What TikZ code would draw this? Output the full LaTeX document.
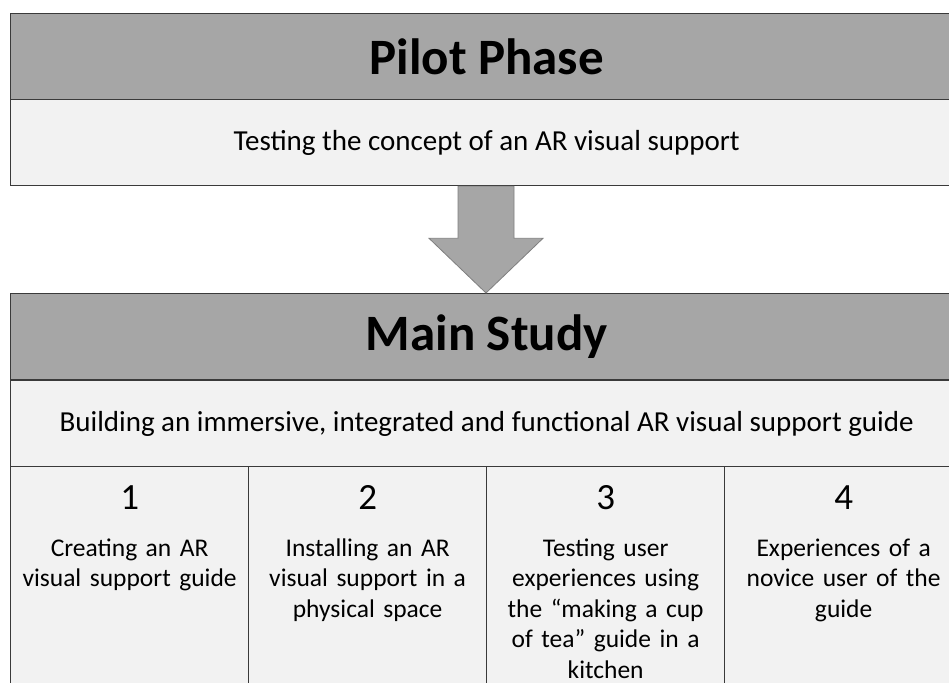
\documentclass[tikz,border=0pt]{standalone}
\usepackage{fontspec}
\setmainfont{Carlito}
\usetikzlibrary{calc,positioning}
\definecolor{headgray}{HTML}{A6A6A6}
\definecolor{bodygray}{HTML}{F2F2F2}
\definecolor{edgegray}{HTML}{3A3A3A}
\definecolor{arrowedge}{HTML}{7F7F7F}

\begin{document}
\begin{tikzpicture}[x=1pt, y=-1pt,
  headbox/.style={draw=edgegray, line width=1.3pt, fill=headgray, inner sep=0pt,
    minimum width=952pt, minimum height=86pt, anchor=north west,
    font=\fontsize{51}{55}\selectfont\bfseries},
  bodybox/.style={draw=edgegray, line width=1.3pt, fill=bodygray, inner sep=0pt,
    minimum width=952pt, minimum height=86pt, anchor=north west,
    font=\fontsize{29}{33}\selectfont},
  colbox/.style={draw=edgegray, line width=1.3pt, fill=bodygray, inner sep=0pt,
    minimum width=238pt, minimum height=240pt, anchor=north west},
  colnum/.style={font=\fontsize{37}{40}\selectfont, inner sep=0pt},
  coltext/.style={font=\fontsize{25.5}{30.5}\selectfont, inner sep=0pt,
    text width=232pt, align=center}]
  \useasboundingbox (0,0) rectangle (949,682);
  \clip (0,0) rectangle (949,682);
  % pilot phase
  \node[headbox] (pilothead) at (10,13) {Pilot Phase};
  \node[bodybox] (pilotbody) at (10,99) {Testing the concept of an AR visual support};
  % main study
  \node[headbox] (mainhead) at (10,293) {Main Study};
  \node[bodybox] (mainbody) at (10,380) {Building an immersive, integrated and functional AR visual support guide};
  \node[colbox] (col1) at (10,466) {};
  \node[colbox] (col2) at (248,466) {};
  \node[colbox] (col3) at (486,466) {};
  \node[colbox] (col4) at (724,466) {};
  \node[colnum, below=43pt of col1.north, anchor=base] (num1) {1};
  \node[colnum, below=43pt of col2.north, anchor=base] (num2) {2};
  \node[colnum, below=43pt of col3.north, anchor=base] (num3) {3};
  \node[colnum, below=43pt of col4.north, anchor=base] (num4) {4};
  \node[coltext, below=90pt of col1.north, anchor=base] (txt1) {Creating an AR\\visual support guide};
  \node[coltext, below=90pt of col2.north, anchor=base] (txt2) {Installing an AR\\visual support in a\\physical space};
  \node[coltext, below=90pt of col3.north, anchor=base] (txt3) {Testing user\\experiences using\\the “making a cup\\of tea” guide in a\\kitchen};
  \node[coltext, below=90pt of col4.north, anchor=base] (txt4) {Experiences of a\\novice user of the\\guide};
  % block arrow
  \coordinate (tip) at (pilotbody.south -| col3.north west);
  \draw[arrowedge, fill=headgray, line width=0.8pt]
    ($(tip)+(-28,0)$) -- ($(tip)+(28,0)$) -- ($(tip)+(28,52)$) -- ($(tip)+(57,52)$)
    -- (mainhead.north -| col3.north west) -- ($(tip)+(-57,52)$) -- ($(tip)+(-28,52)$) -- cycle;
\end{tikzpicture}
\end{document}
